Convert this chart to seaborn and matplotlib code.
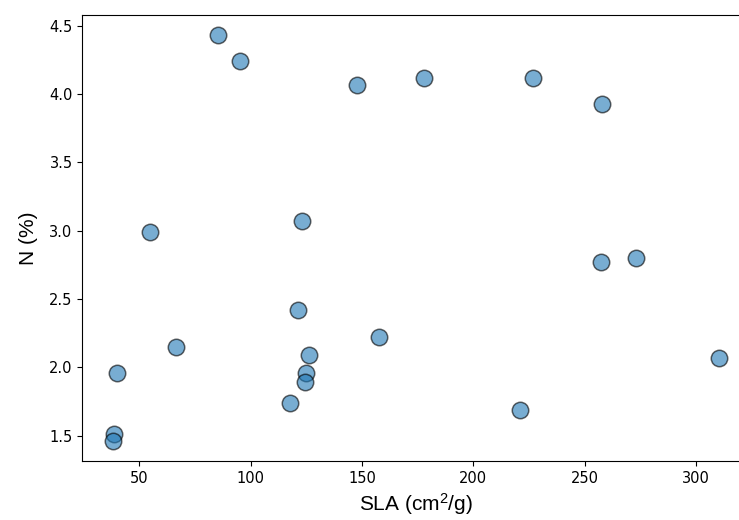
import matplotlib
matplotlib.use("Agg")
import matplotlib.pyplot as plt
import seaborn as sns
import pandas as pd

sla = [85.5, 95.4, 147.6, 178.0, 226.9, 257.7, 54.85, 123.3, 257.1, 273.2,
       121.4, 157.5, 66.65, 126.2, 40.2, 125.0, 124.55, 117.5, 221.0, 310.1,
       38.5, 38.1]
n_pct = [4.43, 4.24, 4.07, 4.12, 4.12, 3.93, 2.99, 3.07, 2.77, 2.80,
         2.42, 2.22, 2.15, 2.09, 1.96, 1.96, 1.89, 1.74, 1.69, 2.07,
         1.51, 1.46]

df = pd.DataFrame({"SLA": sla, "N": n_pct})

plt.rcParams["mathtext.fontset"] = "custom"
plt.rcParams["mathtext.rm"] = "Liberation Sans"
plt.rcParams["mathtext.it"] = "Liberation Sans:italic"
plt.rcParams["mathtext.bf"] = "Liberation Sans:bold"

fig = plt.figure(figsize=(7.39, 5.20), dpi=100)
ax = fig.add_axes([0.1114, 0.1129, 0.902, 0.858])
sns.scatterplot(data=df, x="SLA", y="N", ax=ax, s=140, color="tab:blue",
                alpha=0.6, edgecolor="black", linewidth=1.1)
ax.set_xlabel("SLA (cm$^2$/g)", fontsize=15, family="Liberation Sans", labelpad=4)
ax.set_ylabel("N (%)", fontsize=15, family="Liberation Sans", labelpad=8)
ax.tick_params(labelsize=10.5)
ax.set_xticks([50, 100, 150, 200, 250, 300])
ax.set_yticks([1.5, 2.0, 2.5, 3.0, 3.5, 4.0, 4.5])
fig.savefig("out.png", dpi=100)
